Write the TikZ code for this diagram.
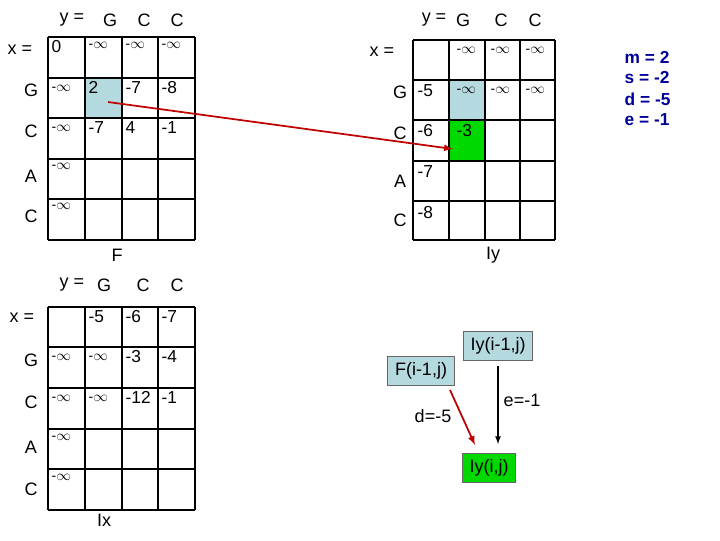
\documentclass[tikz,border=0pt]{standalone}
\usepackage{fontspec}
\setmainfont{Liberation Sans}
\begin{document}
\begin{tikzpicture}[x=0.75pt,y=-0.75pt,
  lab/.style={font=\fontsize{13.5}{15}\selectfont},
  cell/.style={font=\fontsize{10.5}{12}\selectfont,anchor=north west,inner sep=1pt},
  num/.style={font=\fontsize{13}{14}\selectfont},
  gridl/.style={line width=1.6pt},
  box/.style={draw=black!60,fill=lb,font=\fontsize{13.5}{15}\selectfont,minimum height=22pt,inner sep=3pt},
  par/.style={font=\bfseries\fontsize{13}{15}\selectfont,text=blue!60!black,anchor=west}]
\definecolor{lb}{RGB}{180,218,224}
\useasboundingbox (0,0) rectangle (720,540);
% ---- F grid
\fill[lb] (85,78) rectangle (122,118);
\foreach \x in {48,85,122,158,195} \draw[gridl] (\x,37)--(\x,240);
\foreach \y in {37,78,118,159,199,240} \draw[gridl] (48,\y)--(195,\y);
\node[lab] (fy) at (72,20) {y =};
\node[lab] (f1) at (110,20) {G};
\node[lab] (f2) at (144,20) {C};
\node[lab] (f3) at (177,20) {C};
\node[lab] (fx) at (20,50) {x =};
\node[lab] (fr1) at (31,90) {G};
\node[lab] (fr2) at (31,131) {C};
\node[lab] (fr3) at (31,176) {A};
\node[lab] (fr4) at (31,216) {C};
\node[lab] (fF) at (117,255) {F};
\node[cell,num] (c00) at (50,39) {0};
\node[cell] (c01) at (87,41) {-$\infty$};
\node[cell] (c02) at (124,41) {-$\infty$};
\node[cell] (c03) at (160,41) {-$\infty$};
\node[cell] (c10) at (50,84) {-$\infty$};
\node[cell,num] (c11) at (87,80) {2};
\node[cell,num] (c12) at (124,80) {-7};
\node[cell,num] (c13) at (160,80) {-8};
\node[cell] (c20) at (50,124) {-$\infty$};
\node[cell,num] (c21) at (87,120) {-7};
\node[cell,num] (c22) at (124,120) {4};
\node[cell,num] (c23) at (160,120) {-1};
\node[cell] (c30) at (50,162) {-$\infty$};
\node[cell] (c40) at (50,202) {-$\infty$};
% ---- Iy grid
\fill[lb] (449,80) rectangle (485,120);
\fill[green!85!black] (449,120) rectangle (485,161);
\foreach \x in {413,449,485,520,555} \draw[gridl] (\x,40)--(\x,240);
\foreach \y in {40,80,120,161,201,240} \draw[gridl] (413,\y)--(555,\y);
\node[lab] (yy) at (434,20) {y =};
\node[lab] (y1) at (463,20) {G};
\node[lab] (y2) at (501,20) {C};
\node[lab] (y3) at (535,20) {C};
\node[lab] (yx) at (382,52) {x =};
\node[lab] (yr1) at (400,92) {G};
\node[lab] (yr2) at (400,133) {C};
\node[lab] (yr3) at (400,181) {A};
\node[lab] (yr4) at (400,220) {C};
\node[lab] (yI) at (493,255) {Iy};
\node[cell] (d01) at (455,46) {-$\infty$};
\node[cell] (d02) at (489,46) {-$\infty$};
\node[cell] (d03) at (524,46) {-$\infty$};
\node[cell,num] (d10) at (416,83) {-5};
\node[cell] (d11) at (455,86) {-$\infty$};
\node[cell] (d12) at (489,86) {-$\infty$};
\node[cell] (d13) at (524,86) {-$\infty$};
\node[cell,num] (d20) at (416,123) {-6};
\node[cell,num] (d21) at (455,123) {-3};
\node[cell,num] (d30) at (416,164) {-7};
\node[cell,num] (d40) at (416,205) {-8};
\coordinate (src) at (108,102);
\coordinate (dst) at (453,149);
\draw[red!75!black,line width=1.3pt,-latex] (src)--(dst);
\node[par] (pm) at (620,57) {m = 2};
\node[par] (ps) at (620,78) {s = -2};
\node[par] (pd) at (620,99) {d = -5};
\node[par] (pe) at (620,120) {e = -1};
% ---- Ix grid
\foreach \x in {48,85,122,158,195} \draw[gridl] (\x,307)--(\x,510);
\foreach \y in {307,347,388,429,469,510} \draw[gridl] (48,\y)--(195,\y);
\node[lab] (xy) at (72,285) {y =};
\node[lab] (x1) at (104,285) {G};
\node[lab] (x2) at (143,285) {C};
\node[lab] (x3) at (177,285) {C};
\node[lab] (xx) at (22,318) {x =};
\node[lab] (xr1) at (31,360) {G};
\node[lab] (xr2) at (31,402) {C};
\node[lab] (xr3) at (31,447) {A};
\node[lab] (xr4) at (31,489) {C};
\node[lab] (xI) at (104,520) {Ix};
\node[cell,num] (e01) at (87,309) {-5};
\node[cell,num] (e02) at (124,309) {-6};
\node[cell,num] (e03) at (160,309) {-7};
\node[cell] (e10) at (50,353) {-$\infty$};
\node[cell] (e11) at (87,353) {-$\infty$};
\node[cell,num] (e12) at (124,349) {-3};
\node[cell,num] (e13) at (160,349) {-4};
\node[cell] (e20) at (50,394) {-$\infty$};
\node[cell] (e21) at (87,394) {-$\infty$};
\node[cell,num] (e22) at (124,390) {-12};
\node[cell,num] (e23) at (160,390) {-1};
\node[cell] (e30) at (50,433) {-$\infty$};
\node[cell] (e40) at (50,473) {-$\infty$};
% ---- bottom right
\node[box,minimum width=52pt] (iyp) at (498,346) {Iy(i-1,j)};
\node[box,minimum width=50pt] (fp) at (421,371) {F(i-1,j)};
\node[box,fill=green!85!black,minimum width=40pt] (iy) at (489,468) {Iy(i,j)};
\coordinate (a1) at (498,366);
\coordinate (a2) at (498,444);
\draw[line width=1pt,-latex] (a1)--(a2);
\coordinate (b1) at (450,390);
\coordinate (b2) at (475,445);
\draw[red!75!black,line width=1.3pt,-latex] (b1)--(b2);
\node[lab] (le) at (522,400) {e=-1};
\node[lab] (ld) at (433,416) {d=-5};
\end{tikzpicture}
\end{document}
